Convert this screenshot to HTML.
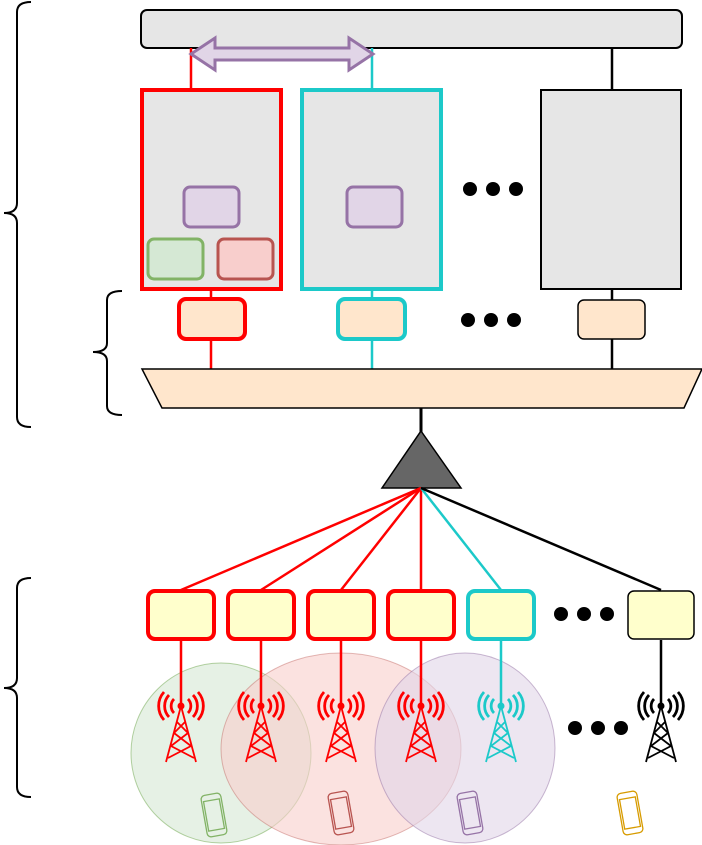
<!DOCTYPE html>
<html><head><meta charset="utf-8"><style>html,body{margin:0;padding:0;background:#fff}svg{display:block}</style></head>
<body>
<svg width="702" height="845" viewBox="0 0 702 845" xmlns="http://www.w3.org/2000/svg">
<defs>
<g id="tw" fill="none">
  <path d="M0 0 L-15 56 M0 0 L15 56 M-4 16 L7 27 L-10 40 L13 52 M4 16 L-7 27 L10 40 L-13 52" stroke-width="1.8"/>
  <circle cx="0" cy="0" r="3.5" fill="currentColor" stroke="none"/>
  <path d="M-7 -7 A10 10 0 0 0 -7 7 M7 -7 A10 10 0 0 1 7 7 M-12 -11 A16 16 0 0 0 -12 11 M12 -11 A16 16 0 0 1 12 11 M-17 -14 A21 21 0 0 0 -17 14 M17 -14 A21 21 0 0 1 17 14" stroke-width="2.8"/>
</g>
<g id="ph" fill="none" stroke-width="1.3">
  <rect x="-10" y="-21" width="20" height="42" rx="4" transform="rotate(-10)"/>
  <rect x="-8" y="-15" width="16" height="30" transform="rotate(-10)"/>
</g>
</defs>
<!-- braces -->
<g fill="none" stroke="#000" stroke-width="2">
<path d="M31 2 Q17 2 17 12 L17 203 Q17 213 4 213 Q17 213 17 223 L17 417 Q17 427 31 427"/>
<path d="M122 291 Q107 291 107 300 L107 343 Q107 352 93 352 Q107 352 107 361 L107 406 Q107 415 122 415"/>
<path d="M31 578 Q17 578 17 588 L17 678 Q17 688 4 688 Q17 688 17 698 L17 787 Q17 797 31 797"/>
</g>
<!-- top bar -->
<rect x="141" y="10" width="541" height="38" rx="6" fill="#e6e6e6" stroke="#000" stroke-width="2"/>
<line x1="191" y1="48" x2="191" y2="89" stroke="red" stroke-width="2.5"/>
<line x1="372" y1="48" x2="372" y2="89" stroke="#1cc9c9" stroke-width="2.5"/>
<line x1="612" y1="48" x2="612" y2="89" stroke="#000" stroke-width="2.5"/>
<path d="M191 54 L215 38 L215 48 L349 48 L349 38 L373 54 L349 70 L349 60 L215 60 L215 70 Z" fill="#e1d5e7" stroke="#9673a6" stroke-width="3"/>
<!-- big boxes -->
<rect x="142" y="90" width="139" height="199" fill="#e6e6e6" stroke="red" stroke-width="4"/>
<rect x="302" y="90" width="139" height="199" fill="#e6e6e6" stroke="#1cc9c9" stroke-width="4"/>
<rect x="541" y="90" width="140" height="199" fill="#e6e6e6" stroke="#000" stroke-width="2"/>
<rect x="184" y="187" width="55" height="40" rx="6" fill="#e1d5e7" stroke="#9673a6" stroke-width="3"/>
<rect x="347" y="187" width="55" height="40" rx="6" fill="#e1d5e7" stroke="#9673a6" stroke-width="3"/>
<rect x="148" y="239" width="55" height="40" rx="6" fill="#d5e8d4" stroke="#82b366" stroke-width="3"/>
<rect x="218" y="239" width="55" height="40" rx="6" fill="#f8cecc" stroke="#b85450" stroke-width="3"/>
<g fill="#000"><circle cx="470" cy="189" r="7"/><circle cx="493" cy="189" r="7"/><circle cx="516" cy="189" r="7"/>
<circle cx="468" cy="320" r="7"/><circle cx="491" cy="320" r="7"/><circle cx="514" cy="320" r="7"/>
<circle cx="561" cy="614" r="7"/><circle cx="584" cy="614" r="7"/><circle cx="607" cy="614" r="7"/>
<circle cx="575" cy="728" r="7"/><circle cx="598" cy="728" r="7"/><circle cx="621" cy="728" r="7"/></g>
<!-- small boxes -->
<line x1="211" y1="289" x2="211" y2="369" stroke="red" stroke-width="2.5"/>
<line x1="372" y1="289" x2="372" y2="369" stroke="#1cc9c9" stroke-width="2.5"/>
<line x1="612" y1="289" x2="612" y2="369" stroke="#000" stroke-width="2.5"/>
<rect x="179" y="299" width="66" height="40" rx="7" fill="#ffe6cc" stroke="red" stroke-width="4"/>
<rect x="338" y="299" width="67" height="40" rx="7" fill="#ffe6cc" stroke="#1cc9c9" stroke-width="4"/>
<rect x="578" y="300" width="67" height="39" rx="6" fill="#ffe6cc" stroke="#000" stroke-width="1.5"/>
<path d="M142 369 L702 369 L684 408 L162 408 Z" fill="#ffe6cc" stroke="#000" stroke-width="1.5"/>
<line x1="421" y1="408" x2="421" y2="432" stroke="#000" stroke-width="3"/>
<path d="M421 431 L461 488 L382 488 Z" fill="#666" stroke="#000" stroke-width="1.5"/>
<!-- fan lines -->
<g stroke-width="2.5">
<line x1="421" y1="488" x2="181" y2="590" stroke="red"/>
<line x1="421" y1="488" x2="261" y2="590" stroke="red"/>
<line x1="421" y1="488" x2="341" y2="590" stroke="red"/>
<line x1="421" y1="488" x2="421" y2="590" stroke="red"/>
<line x1="421" y1="488" x2="501" y2="590" stroke="#1cc9c9"/>
<line x1="421" y1="488" x2="661" y2="590" stroke="#000"/>
</g>
<!-- circles -->
<ellipse cx="221" cy="753" rx="90" ry="90" fill="#d5e8d4" fill-opacity="0.6" stroke="#82b366" stroke-opacity="0.6"/>
<ellipse cx="341" cy="749" rx="120" ry="96" fill="#f8cecc" fill-opacity="0.6" stroke="#b85450" stroke-opacity="0.4"/>
<ellipse cx="465" cy="748" rx="90" ry="95" fill="#e1d5e7" fill-opacity="0.6" stroke="#9673a6" stroke-opacity="0.5"/>
<!-- vertical lines -->
<g stroke-width="2.5">
<line x1="181" y1="640" x2="181" y2="706" stroke="red"/>
<line x1="261" y1="640" x2="261" y2="706" stroke="red"/>
<line x1="341" y1="640" x2="341" y2="706" stroke="red"/>
<line x1="421" y1="640" x2="421" y2="706" stroke="red"/>
<line x1="501" y1="640" x2="501" y2="706" stroke="#1cc9c9"/>
<line x1="661" y1="640" x2="661" y2="706" stroke="#000"/>
</g>
<!-- yellow boxes -->
<rect x="148" y="591" width="66" height="48" rx="7" fill="#ffffcc" stroke="red" stroke-width="4"/>
<rect x="228" y="591" width="66" height="48" rx="7" fill="#ffffcc" stroke="red" stroke-width="4"/>
<rect x="308" y="591" width="66" height="48" rx="7" fill="#ffffcc" stroke="red" stroke-width="4"/>
<rect x="388" y="591" width="66" height="48" rx="7" fill="#ffffcc" stroke="red" stroke-width="4"/>
<rect x="468" y="591" width="66" height="48" rx="7" fill="#ffffcc" stroke="#1cc9c9" stroke-width="4"/>
<rect x="628" y="591" width="66" height="48" rx="6" fill="#ffffcc" stroke="#000" stroke-width="1.5"/>
<!-- towers -->
<use href="#tw" x="181" y="706" stroke="red" color="red"/>
<use href="#tw" x="261" y="706" stroke="red" color="red"/>
<use href="#tw" x="341" y="706" stroke="red" color="red"/>
<use href="#tw" x="421" y="706" stroke="red" color="red"/>
<use href="#tw" x="501" y="706" stroke="#1cc9c9" color="#1cc9c9"/>
<use href="#tw" x="661" y="706" stroke="#000" color="#000"/>
<!-- phones -->
<use href="#ph" x="214" y="815" stroke="#82b366"/>
<use href="#ph" x="341" y="813" stroke="#b85450"/>
<use href="#ph" x="470" y="813" stroke="#9673a6"/>
<use href="#ph" x="630" y="813" stroke="#d79b00"/>
</svg>
</body></html>
